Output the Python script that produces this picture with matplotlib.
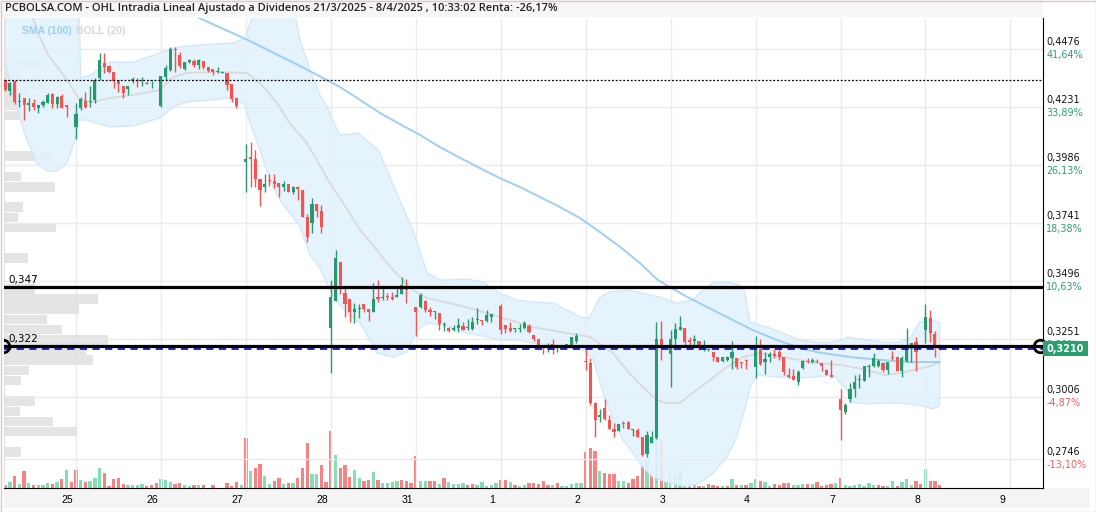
import numpy as np
import matplotlib.pyplot as plt
from matplotlib.patches import Rectangle

# 30 min bars per session: (open, high, low, close); None = closing auction slot
d24 = [(0.4345, 0.4349, 0.4299, 0.4303), (0.4300, 0.4338, 0.4282, 0.4331),
       (0.4342, 0.4345, 0.4242, 0.4253), (0.4252, 0.4289, 0.4232, 0.4256),
       (0.4268, 0.4269, 0.4176, 0.4239), (0.4241, 0.4268, 0.4214, 0.4249),
       (0.4249, 0.4264, 0.4218, 0.4232), (0.4228, 0.4239, 0.4204, 0.4239),
       (0.4241, 0.4259, 0.4232, 0.4251), (0.4247, 0.4289, 0.4247, 0.4282),
       (0.4286, 0.4289, 0.4228, 0.4244), (0.4244, 0.4278, 0.4228, 0.4272),
       (0.4278, 0.4286, 0.4226, 0.4228), (0.4239, 0.4239, 0.4188, 0.4230), None]
d25 = [(0.4148, 0.4247, 0.4096, 0.4202), (0.4227, 0.4275, 0.4218, 0.4264),
       (0.4256, 0.4296, 0.4228, 0.4232), (0.4252, 0.4320, 0.4232, 0.4256),
       (0.4261, 0.4352, 0.4247, 0.4345), (0.4352, 0.4458, 0.4345, 0.4430),
       (0.4416, 0.4458, 0.4376, 0.4401), (0.4404, 0.4408, 0.4373, 0.4378),
       (0.4379, 0.4379, 0.4310, 0.4342), (0.4345, 0.4345, 0.4296, 0.4327),
       (0.4320, 0.4320, 0.4268, 0.4291), (0.4306, 0.4320, 0.4282, 0.4320),
       (0.4342, 0.4359, 0.4331, 0.4348), (0.4345, 0.4352, 0.4317, 0.4342),
       (0.4342, 0.4359, 0.4321, 0.4345), (0.4334, 0.4342, 0.4327, 0.4329),
       (0.4340, 0.4342, 0.4310, 0.4342), None]
d26 = [(0.4235, 0.4362, 0.4232, 0.4362), (0.4359, 0.4408, 0.4345, 0.4394),
       (0.4387, 0.4486, 0.4384, 0.4475), (0.4475, 0.4484, 0.4379, 0.4470),
       (0.4451, 0.4462, 0.4394, 0.4404), (0.4393, 0.4421, 0.4387, 0.4421),
       (0.4421, 0.4434, 0.4418, 0.4430), (0.4425, 0.4434, 0.4401, 0.4408),
       (0.4408, 0.4434, 0.4390, 0.4430), (0.4425, 0.4425, 0.4390, 0.4401),
       (0.4399, 0.4401, 0.4380, 0.4384), (0.4390, 0.4390, 0.4366, 0.4378),
       (0.4378, 0.4399, 0.4376, 0.4380), (0.4376, 0.4384, 0.4373, 0.4380),
       (0.4376, 0.4376, 0.4303, 0.4324), (0.4328, 0.4328, 0.4253, 0.4264),
       (0.4268, 0.4268, 0.4228, 0.4237), None]
d27 = [(0.3999, 0.4075, 0.3873, 0.4013), (0.4021, 0.4084, 0.3894, 0.4013),
       (0.4013, 0.4049, 0.3894, 0.3927), (0.3927, 0.3927, 0.3814, 0.3880),
       (0.3894, 0.3948, 0.3873, 0.3906), (0.3923, 0.3948, 0.3899, 0.3918),
       (0.3918, 0.3948, 0.3888, 0.3906), (0.3909, 0.3909, 0.3850, 0.3894),
       (0.3894, 0.3918, 0.3878, 0.3906), (0.3906, 0.3906, 0.3871, 0.3873),
       (0.3873, 0.3899, 0.3864, 0.3894), (0.3894, 0.3899, 0.3838, 0.3885),
       (0.3880, 0.3880, 0.3765, 0.3768), (0.3768, 0.3779, 0.3662, 0.3683),
       (0.3742, 0.3845, 0.3700, 0.3821), (0.3821, 0.3821, 0.3768, 0.3793),
       (0.3792, 0.3817, 0.3698, 0.3725), None]
d28 = [(0.3299, 0.3500, 0.3109, 0.3430), (0.3412, 0.3627, 0.3412, 0.3592),
       (0.3576, 0.3576, 0.3440, 0.3479), (0.3444, 0.3465, 0.3345, 0.3399),
       (0.3420, 0.3420, 0.3324, 0.3366), (0.3366, 0.3402, 0.3317, 0.3378),
       (0.3378, 0.3399, 0.3338, 0.3382), (0.3399, 0.3399, 0.3366, 0.3378),
       (0.3378, 0.3378, 0.3328, 0.3366), (0.3366, 0.3486, 0.3366, 0.3420),
       (0.3427, 0.3500, 0.3409, 0.3420), (0.3423, 0.3465, 0.3416, 0.3426),
       (0.3434, 0.3444, 0.3416, 0.3428), (0.3428, 0.3451, 0.3416, 0.3420),
       (0.3430, 0.3472, 0.3430, 0.3438), (0.3441, 0.3514, 0.3441, 0.3479),
       (0.3469, 0.3503, 0.3404, 0.3458), None]
d31 = [(0.3385, 0.3385, 0.3264, 0.3366), (0.3388, 0.3444, 0.3381, 0.3437),
       (0.3413, 0.3416, 0.3366, 0.3374), (0.3374, 0.3385, 0.3348, 0.3366),
       (0.3366, 0.3369, 0.3334, 0.3369), (0.3359, 0.3359, 0.3289, 0.3313),
       (0.3310, 0.3324, 0.3286, 0.3313), (0.3299, 0.3303, 0.3282, 0.3286),
       (0.3289, 0.3310, 0.3285, 0.3299), (0.3299, 0.3338, 0.3282, 0.3310),
       (0.3306, 0.3324, 0.3289, 0.3289), (0.3297, 0.3334, 0.3289, 0.3301),
       (0.3293, 0.3345, 0.3289, 0.3324), (0.3331, 0.3381, 0.3313, 0.3334),
       (0.3328, 0.3331, 0.3310, 0.3326), (0.3327, 0.3374, 0.3324, 0.3352),
       (0.3345, 0.3357, 0.3324, 0.3357), None]
d01 = [(0.3390, 0.3399, 0.3271, 0.3289), (0.3310, 0.3310, 0.3275, 0.3293),
       (0.3299, 0.3324, 0.3282, 0.3286), (0.3293, 0.3296, 0.3279, 0.3296),
       (0.3292, 0.3313, 0.3279, 0.3294), (0.3299, 0.3328, 0.3293, 0.3317),
       (0.3307, 0.3313, 0.3275, 0.3279), (0.3268, 0.3268, 0.3243, 0.3251),
       (0.3251, 0.3251, 0.3216, 0.3227), (0.3226, 0.3226, 0.3188, 0.3219),
       (0.3223, 0.3233, 0.3195, 0.3226), (0.3229, 0.3251, 0.3188, 0.3219),
       (0.3217, 0.3221, 0.3196, 0.3221), (0.3224, 0.3224, 0.3216, 0.3216),
       (0.3223, 0.3229, 0.3216, 0.3229), (0.3226, 0.3261, 0.3226, 0.3261),
       (0.3243, 0.3275, 0.3233, 0.3264), None]
d02 = [(0.3158, 0.3213, 0.3120, 0.3154), (0.3148, 0.3170, 0.2972, 0.2982),
       (0.2982, 0.2986, 0.2836, 0.2909), (0.2921, 0.2954, 0.2899, 0.2930),
       (0.2961, 0.2996, 0.2909, 0.2912), (0.2909, 0.2930, 0.2871, 0.2871),
       (0.2871, 0.2895, 0.2838, 0.2860), (0.2864, 0.2892, 0.2864, 0.2892),
       (0.2898, 0.2906, 0.2874, 0.2893), (0.2899, 0.2905, 0.2871, 0.2871),
       (0.2868, 0.2871, 0.2843, 0.2871), (0.2867, 0.2874, 0.2838, 0.2838),
       (0.2838, 0.2838, 0.2758, 0.2761), (0.2765, 0.2864, 0.2754, 0.2845),
       (0.2813, 0.2864, 0.2810, 0.2838), (0.2832, 0.3324, 0.2829, 0.3250),
       (0.3250, 0.3328, 0.3162, 0.3219), None]
d03 = [(0.3188, 0.3289, 0.3047, 0.3250), (0.3250, 0.3317, 0.3221, 0.3292),
       (0.3289, 0.3348, 0.3289, 0.3300), (0.3296, 0.3296, 0.3219, 0.3240),
       (0.3247, 0.3261, 0.3219, 0.3240), (0.3243, 0.3268, 0.3219, 0.3250),
       (0.3243, 0.3243, 0.3205, 0.3219), (0.3205, 0.3247, 0.3200, 0.3208),
       (0.3205, 0.3213, 0.3200, 0.3208), (0.3197, 0.3197, 0.3158, 0.3176),
       (0.3176, 0.3176, 0.3153, 0.3155), (0.3158, 0.3174, 0.3155, 0.3174),
       (0.3162, 0.3179, 0.3159, 0.3176), (0.3172, 0.3243, 0.3123, 0.3197),
       (0.3170, 0.3170, 0.3123, 0.3134), (0.3155, 0.3155, 0.3127, 0.3150),
       (0.3162, 0.3165, 0.3123, 0.3158), None]
d04 = [(0.3134, 0.3264, 0.3088, 0.3226), (0.3207, 0.3250, 0.3141, 0.3145),
       (0.3153, 0.3197, 0.3103, 0.3167), (0.3176, 0.3197, 0.3155, 0.3188),
       (0.3188, 0.3207, 0.3170, 0.3179), (0.3197, 0.3207, 0.3162, 0.3176),
       (0.3176, 0.3176, 0.3099, 0.3113), (0.3099, 0.3127, 0.3085, 0.3092),
       (0.3095, 0.3123, 0.3078, 0.3078), (0.3071, 0.3120, 0.3057, 0.3110),
       (0.3127, 0.3162, 0.3123, 0.3158), (0.3158, 0.3170, 0.3148, 0.3155),
       (0.3155, 0.3172, 0.3151, 0.3162), (0.3158, 0.3167, 0.3148, 0.3155),
       (0.3148, 0.3148, 0.3117, 0.3138), (0.3120, 0.3123, 0.3099, 0.3099),
       (0.3099, 0.3162, 0.3090, 0.3092), None]
d07 = [(0.2998, 0.3040, 0.2824, 0.2951), (0.2944, 0.2979, 0.2934, 0.2972),
       (0.2998, 0.3064, 0.2986, 0.3040), (0.3040, 0.3099, 0.3007, 0.3071),
       (0.3077, 0.3103, 0.3043, 0.3080), (0.3075, 0.3137, 0.3075, 0.3137),
       (0.3131, 0.3145, 0.3092, 0.3137), (0.3137, 0.3193, 0.3134, 0.3170),
       (0.3137, 0.3165, 0.3131, 0.3159), (0.3151, 0.3155, 0.3113, 0.3120),
       (0.3120, 0.3155, 0.3103, 0.3155), (0.3176, 0.3200, 0.3162, 0.3170),
       (0.3174, 0.3174, 0.3117, 0.3117), (0.3117, 0.3179, 0.3090, 0.3170),
       (0.3159, 0.3296, 0.3155, 0.3207), (0.3207, 0.3235, 0.3155, 0.3233),
       (0.3237, 0.3258, 0.3117, 0.3197), None]
d08 = [(0.3289, 0.3399, 0.3233, 0.3343), (0.3339, 0.3374, 0.3240, 0.3275),
       (0.3272, 0.3286, 0.3176, 0.3226), (0.3222, 0.3226, 0.3205, 0.3210)]

# volume per bar and its colour (g = up, r = down)
v24 = [3, 6, 12, 4, 17, 5, 3, 3, 3, 5, 4, 6, 9, 18, 6]
v25 = [18, 8, 6, 7, 10, 20, 15, 2, 9, 10, 4, 3, 3, 3, 4, 2, 3, 5]
v26 = [9, 8, 6, 4, 5, 3, 2, 3, 3, 3, 0, 3, 0, 0, 5, 2, 6, 3]
v27 = [50, 17, 20, 24, 12, 4, 7, 10, 4, 5, 5, 10, 20, 45, 14, 14, 23, 6]
v28 = [57, 33, 20, 23, 11, 18, 10, 7, 8, 16, 8, 5, 5, 6, 7, 8, 7, 5]
v31 = [32, 7, 7, 7, 7, 4, 10, 6, 4, 4, 5, 3, 4, 3, 6, 2, 3, 5]
v01 = [8, 8, 6, 3, 2, 3, 5, 5, 4, 7, 3, 3, 5, 2, 2, 4, 5, 5]
v02 = [36, 40, 37, 17, 15, 14, 14, 7, 7, 5, 9, 12, 23, 28, 15, 51, 47, 6]
v03 = [19, 13, 18, 4, 5, 4, 2, 2, 4, 3, 2, 2, 2, 9, 3, 3, 3, 5]
v04 = [9, 7, 6, 2, 4, 3, 5, 5, 3, 3, 4, 4, 4, 6, 2, 3, 4, 5]
v07 = [10, 3, 2, 3, 4, 2, 5, 3, 3, 2, 2, 7, 2, 6, 9, 3, 7, 4]
v08 = [19, 7, 7, 3]
c24 = "rgrgrgrgggrgrgr"
c25 = "rgrgggrrrrrggggrrr"
c26 = "gggrrggrgrgrggrrrg"
c27 = "rgrrggrrgrgrrrggrr"
c28 = "rgrrrggrrgrggggrrr"
c31 = "rggrrgrggggrrggggg"
c01 = "rrgrggrrrrrgrggggg"
c02 = "rrrgrrrggrrrrgrgrg"
c03 = "gggrrgrgrrrgrgrgrg"
c04 = "grggrrrrgggrgrrrrg"
c07 = "rgggggggrrggrgggrr"
c08 = "grrr"

day_labels = ['25', '26', '27', '28', '31', '1', '2', '3', '4', '7', '8', '9']

# bollinger (20) upper / middle / lower and sma (100), sampled along the bar index
bb_up_x = [-0.1, 15.2, 15.6, 16.0, 18.0, 22.2, 27.1, 32.8, 35.6, 38.5, 44.0, 48.3, 50.8, 52.9, 55.0,
           60.3, 62.5, 64.6, 66.7, 68.2, 69.4, 70.9, 74.9, 79.2, 83.4, 86.4, 89.4, 92.1, 97.8,
           101.2, 104.8, 108.4, 111.8, 116.1, 119.0, 122.4, 123.9, 126.0, 128.1, 131.7, 135.1,
           138.7, 142.3, 145.7, 147.8, 150.0, 152.9, 155.7, 156.7, 157.8, 161.4, 164.8, 168.4,
           172.0, 175.4, 177.3, 178.4, 179.6, 182.6, 186.0, 189.6, 191.7, 193.8, 196.0, 198.0]
bb_up = [0.4810, 0.4725, 0.4725, 0.4354, 0.4366, 0.4421, 0.4421, 0.4459, 0.4480, 0.4489, 0.4497,
         0.4501, 0.4522, 0.4641, 0.4725, 0.4725, 0.4514, 0.4387, 0.4282, 0.4231, 0.4176, 0.4113,
         0.4121, 0.4045, 0.3847, 0.3711, 0.3530, 0.3500, 0.3505, 0.3492, 0.3445, 0.3416, 0.3407,
         0.3403, 0.3374, 0.3340, 0.3344, 0.3428, 0.3450, 0.3458, 0.3445, 0.3428, 0.3403, 0.3416,
         0.3458, 0.3488, 0.3492, 0.3479, 0.3450, 0.3323, 0.3302, 0.3276, 0.3247, 0.3238, 0.3238,
         0.3247, 0.3260, 0.3255, 0.3247, 0.3238, 0.3238, 0.3255, 0.3323, 0.3331, 0.3323]
bb_lo_x = [-0.1, 2.1, 4.2, 6.7, 8.9, 11.0, 13.1, 14.8, 15.6, 17.3, 22.2, 27.1, 32.8, 35.6, 38.5,
           44.0, 48.3, 50.8, 51.9, 54.0, 56.1, 58.2, 61.0, 62.5, 64.6, 66.7, 68.8, 70.9, 73.0,
           75.2, 78.8, 82.2, 85.1, 87.3, 89.4, 94.2, 97.8, 102.1, 104.8, 108.4, 111.8, 116.1,
           119.0, 122.4, 124.5, 126.7, 128.8, 130.9, 133.0, 135.1, 137.2, 140.8, 144.4, 147.2,
           150.0, 152.9, 155.0, 156.7, 157.8, 159.3, 163.5, 168.4, 172.0, 175.4, 178.4, 179.0,
           182.6, 186.0, 189.6, 193.2, 195.3, 196.6, 198.0]
bb_lo = [0.4421, 0.4261, 0.4113, 0.3994, 0.3961, 0.3961, 0.3994, 0.4092, 0.4176, 0.4176, 0.4147,
         0.4151, 0.4185, 0.4231, 0.4252, 0.4261, 0.4273, 0.4239, 0.4163, 0.4049, 0.3923, 0.3838,
         0.3766, 0.3724, 0.3606, 0.3551, 0.3458, 0.3395, 0.3352, 0.3319, 0.3192, 0.3175, 0.3196,
         0.3289, 0.3319, 0.3302, 0.3276, 0.3260, 0.3247, 0.3247, 0.3234, 0.3226, 0.3217, 0.3205,
         0.3171, 0.3023, 0.2909, 0.2824, 0.2770, 0.2710, 0.2668, 0.2643, 0.2626, 0.2643, 0.2685,
         0.2753, 0.2837, 0.2951, 0.3048, 0.3099, 0.3091, 0.3086, 0.3091, 0.3099, 0.3036, 0.2985,
         0.2977, 0.2981, 0.2981, 0.2972, 0.2964, 0.2955, 0.2972]
bb_mid_x = [-0.1, 3.1, 5.3, 6.7, 9.1, 13.1, 15.8, 18.6, 22.2, 27.1, 32.8, 35.6, 38.5, 44.0, 51.2,
            54.0, 57.6, 60.3, 63.9, 68.8, 73.0, 75.2, 78.8, 80.9, 83.6, 86.4, 89.4, 94.2, 99.9,
            104.8, 108.4, 111.8, 119.0, 123.9, 128.8, 131.7, 135.1, 138.1, 140.2, 142.9, 145.7,
            149.3, 152.9, 156.3, 159.9, 164.8, 172.0, 177.4, 182.7, 186.3, 189.6, 193.2, 196.0, 198.0]
bb_mid = [0.4894, 0.4734, 0.4641, 0.4556, 0.4451, 0.4345, 0.4261, 0.4252, 0.4269, 0.4282, 0.4303,
          0.4358, 0.4375, 0.4379, 0.4375, 0.4332, 0.4248, 0.4163, 0.4079, 0.3910, 0.3783, 0.3711,
          0.3627, 0.3572, 0.3513, 0.3458, 0.3424, 0.3403, 0.3374, 0.3344, 0.3323, 0.3302, 0.3276,
          0.3260, 0.3192, 0.3120, 0.3048, 0.2993, 0.2981, 0.2981, 0.3023, 0.3078, 0.3133, 0.3175,
          0.3192, 0.3175, 0.3150, 0.3141, 0.3120, 0.3099, 0.3107, 0.3124, 0.3137, 0.3154]
sma_x = [40.2, 51.4, 62.5, 70.9, 75.2, 79.4, 83.6, 87.9, 92.1, 96.4, 100.6, 104.8, 109.1, 113.3,
         117.5, 121.8, 126.0, 130.3, 134.5, 138.3, 144.5, 152.9, 158.4, 163.5, 168.4, 172.0,
         179.0, 186.0, 191.1, 198.0]
sma = [0.4615, 0.4514, 0.4404, 0.4316, 0.4261, 0.4206, 0.4159, 0.4113, 0.4062, 0.4016, 0.3973,
       0.3931, 0.3893, 0.3851, 0.3809, 0.3762, 0.3703, 0.3640, 0.3572, 0.3500, 0.3429, 0.3344,
       0.3289, 0.3247, 0.3213, 0.3196, 0.3175, 0.3162, 0.3154, 0.3154]

# volume profile (price bin centre, relative volume)
prof_price = [0.4454, 0.4411, 0.4368, 0.4325, 0.4282, 0.4239, 0.4196, 0.4024, 0.3937, 0.3894,
              0.3808, 0.3765, 0.3722, 0.3593, 0.3463, 0.3420, 0.3377, 0.3334, 0.3291, 0.3248,
              0.3205, 0.3162, 0.3119, 0.3076, 0.2989, 0.2946, 0.2903, 0.2860, 0.2774]
prof_vol = [6, 41, 17, 41, 23, 69, 16, 48, 17, 51, 19, 14, 52, 24, 31, 94, 75, 43, 58, 104, 82,
            89, 25, 17, 31, 16, 49, 73, 17]

price_ticks = [0.4476, 0.4231, 0.3986, 0.3741, 0.3496, 0.3251, 0.3006, 0.2746]
pct_labels = ['41,64%', '33,89%', '26,13%', '18,38%', '10,63%', '2,88%', '-4,87%', '-13,10%']
levels = [0.347, 0.322]
last_price = 0.3210
ref_line = 0.4345

GREEN, RED = '#26996e', '#f55252'
VGREEN, VRED = '#85deb3', '#f88282'

days = [d24, d25, d26, d27, d28, d31, d01, d02, d03, d04, d07, d08]
vols = [v24, v25, v26, v27, v28, v31, v01, v02, v03, v04, v07, v08]
vcols = [c24, c25, c26, c27, c28, c31, c01, c02, c03, c04, c07, c08]

bx, bars, vx, vv, vc, starts = [], [], [], [], [], []
k = 0
for day, vol, cs in zip(days, vols, vcols):
    if k > 0:
        starts.append(k)
    for i, b in enumerate(day):
        if b is not None:
            bx.append(k)
            bars.append(b)
        vx.append(k)
        vv.append(vol[i])
        vc.append(VGREEN if cs[i] == 'g' else VRED)
        k += 1
starts.append(starts[-1] + 18)

W, H = 1096, 512
fig = plt.figure(figsize=(W / 100, H / 100), dpi=100)
rect = [4 / W, 24 / H, 1039 / W, 470 / H]
xlim = (-0.254, 219.9)
ylim = (0.2622, 0.4607)

vax = fig.add_axes(rect, zorder=0)
pax = fig.add_axes(rect, zorder=1)
ax = fig.add_axes(rect, zorder=2)
for a in (vax, pax, ax):
    a.set_xticks([])
    a.set_yticks([])
    for s in a.spines.values():
        s.set_visible(False)
pax.patch.set_alpha(0)
ax.patch.set_alpha(0)

# volume + vertical grid
vax.set_xlim(xlim)
vax.set_ylim(0, 470)
for s in starts:
    vax.axvline(s, color='#ebebeb', lw=1)
vax.bar(vx, vv, width=0.7, color=vc, linewidth=0)

# volume profile + horizontal grid
pax.set_xlim(0, 1039)
pax.set_ylim(ylim)
for p in price_ticks:
    pax.axhline(p, color='#ebebeb', lw=1)
pax.barh(prof_price, prof_vol, height=0.0040, left=0, color='#dedede', alpha=0.8, linewidth=0)

# price panel
ax.set_xlim(xlim)
ax.set_ylim(ylim)
ax.fill(np.r_[bb_up_x, bb_lo_x[::-1]], np.r_[bb_up, bb_lo[::-1]],
        fc='#e3f2fd', ec='#cfe7fa', lw=1, alpha=0.9, zorder=1)
ax.plot(bb_mid_x, bb_mid, color='#dadada', lw=1.3, zorder=2)
ax.plot(sma_x, sma, color='#9dcff3', lw=1.4, zorder=3)

o, h, l, c = np.array(bars).T
col = np.where(c >= o, GREEN, RED)
ax.vlines(bx, l, h, colors=col, lw=1, zorder=4)
ax.bar(bx, np.maximum(np.abs(c - o), 0.0004), width=0.66, bottom=np.minimum(o, c),
       color=col, linewidth=0, zorder=5)

ax.axhline(ref_line, color='black', lw=0.9, ls=(0, (1.5, 1.5)), zorder=6)
ax.axhline(last_price, color='#1515c8', lw=1.3, ls=(0, (4, 3)), zorder=6)
for lv in levels:
    ax.axhline(lv, color='black', lw=2.3, zorder=7)
ax.plot([-0.55], [levels[1]], 'o', ms=9, mfc='none', mec='black', mew=2, zorder=8)
ax.plot([219.3], [levels[1]], 'o', ms=9, mfc='none', mec='black', mew=2, zorder=8, clip_on=False)
ytr = ax.get_yaxis_transform()
for lv in levels:
    ax.annotate(f'{lv:.3f}'.replace('.', ','), xy=(0.004, lv), xycoords=ytr, xytext=(0, 1.6),
                textcoords='offset points', va='bottom', ha='left', fontsize=7.5,
                family='DejaVu Sans', zorder=9)

ax.spines['right'].set_visible(True)
ax.spines['right'].set_color('black')
ax.spines['bottom'].set_visible(True)
ax.spines['bottom'].set_color('black')
ax.spines['left'].set_visible(True)
ax.spines['left'].set_color('#e0e0e0')
ax.set_xticks([s - 1.8 for s in starts])
ax.set_xticklabels(day_labels, fontsize=7.5, family='Liberation Sans')
ax.tick_params(axis='x', length=0, pad=5)

# right scale
for p, pct in zip(price_ticks, pct_labels):
    ax.annotate(f'{p:.4f}'.replace('.', ','), xy=(1.003, p), xycoords=ytr, xytext=(0, 1.2),
                textcoords='offset points', va='bottom', ha='left', fontsize=6.9,
                family='DejaVu Sans', color='#111111', annotation_clip=False)
    ax.annotate(pct, xy=(1.003, p), xycoords=ytr, xytext=(0, -0.8),
                textcoords='offset points', va='top', ha='left', fontsize=6.9,
                family='DejaVu Sans', color='#2b9f70' if pct[0] != '-' else '#f45b5b',
                annotation_clip=False)
ax.add_patch(Rectangle((1.0, 0.3180), 45 / 1039, 0.0061, transform=ytr, fc='#2b9f70',
                       ec='none', clip_on=False, zorder=10))
ax.annotate(f'{last_price:.4f}'.replace('.', ','), xy=(1.003, last_price), xycoords=ytr,
            va='center', ha='left', fontsize=6.9, family='DejaVu Sans', color='white',
            fontweight='bold', annotation_clip=False, zorder=11)

# frame, title bar, legend
fig.patches.append(Rectangle((0, 495 / H), 1043 / W, 17 / H, transform=fig.transFigure,
                             fc='#f6f6f6', ec='none', zorder=-1))
fig.patches.append(Rectangle((4 / W, 4 / H), 1086 / W, 20 / H, transform=fig.transFigure,
                             fc='#f4f4f4', ec='none', zorder=-1))
fig.patches.append(Rectangle((0.5 / W, 0.5 / H), 1 - 1 / W, 1 - 1 / H, transform=fig.transFigure,
                             fill=False, ec='#e6c4c4', lw=1, zorder=20))
fig.text(5 / W, 1 - 9 / H, 'PCBOLSA.COM - OHL Intradia Lineal Ajustado a Dividenos 21/3/2025 - '
         '8/4/2025 , 10:33:02 Renta: -26,17%', va='center', ha='left', fontsize=8.0,
         family='Open Sans', fontweight='semibold', color='#222222')
fig.text(22 / W, 1 - 31 / H, 'SMA (100)', va='center', ha='left', fontsize=7.5,
         family='Liberation Sans', fontweight='bold', color='#9dcff3')
fig.text(76 / W, 1 - 31 / H, 'BOLL (20)', va='center', ha='left', fontsize=7.5,
         family='Liberation Sans', fontweight='bold', color='#d8d8d8')

fig.savefig('out.png', dpi=100)
